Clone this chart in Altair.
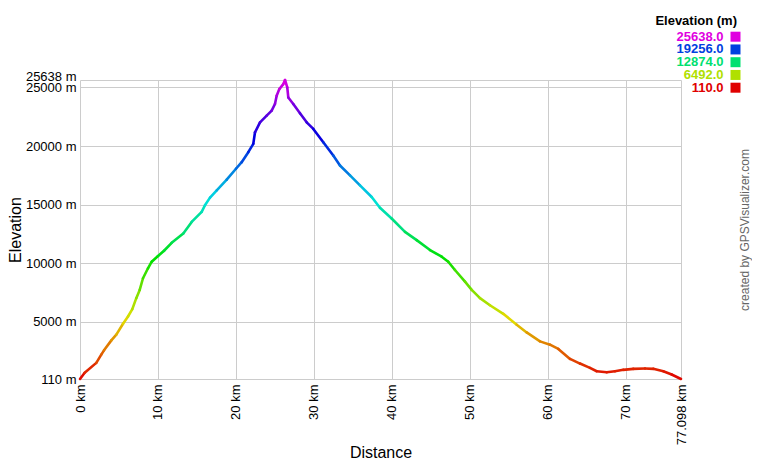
import altair as alt
import pandas as pd

# Distance (km) and elevation (m) along the track
dist = [0, 0.60, 2.09, 2.73, 3.08, 4.02, 4.66, 5.52, 6.16, 6.71, 7.22, 7.66, 8.08, 8.72, 9.20,
        10.01, 10.78, 11.76, 13.25, 14.33, 15.61, 16.03, 16.68, 17.54, 18.82, 20.01, 20.74, 21.59,
        22.23, 22.45, 23.09, 23.95, 24.59, 25.01, 25.23, 25.57, 26.08, 26.30, 26.59, 26.72, 27.36,
        28.22, 29.08, 29.93, 31.21, 32.49, 33.35, 34.64, 35.92, 37.42, 38.48, 39.98, 41.69, 43.19,
        44.90, 46.40, 47.24, 48.10, 49.39, 50.25, 51.31, 52.59, 54.30, 56.02, 57.30, 59.01, 60.29,
        61.36, 62.86, 64.14, 65.42, 66.28, 67.57, 68.63, 69.69, 70.98, 72.48, 73.54, 74.83, 75.90,
        77.098]
elev = [110, 637, 1487, 2193, 2558, 3408, 3893, 4828, 5448, 6077, 7012, 7718, 8712, 9562, 10123,
        10608, 11058, 11738, 12537, 13523, 14373, 14943, 15597, 16218, 17127, 18062, 18623, 19473,
        20187, 21173, 22023, 22593, 23018, 23587, 24293, 24862, 25287, 25638, 24998, 24148, 23587,
        22805, 22023, 21462, 20323, 19193, 18342, 17492, 16643, 15648, 14730, 13812, 12673, 11968,
        11118, 10548, 10123, 9418, 8423, 7718, 7012, 6409, 5678, 4743, 4088, 3323, 3043, 2677,
        1827, 1428, 1062, 773, 688, 773, 892, 977, 1002, 977, 773, 492, 110]

x_ticks = [0, 10, 20, 30, 40, 50, 60, 70, 77.098]
y_ticks = [110, 5000, 10000, 15000, 20000, 25000, 25638]
legend_values = [25638.0, 19256.0, 12874.0, 6492.0, 110.0]
legend_title = ["Elevation (m)"]
credit = ["created by GPSVisualizer.com"]

FONT = "Liberation Sans"

df = pd.DataFrame({"d": dist, "e": elev})
seg = pd.DataFrame({
    "d": df["d"][:-1].values,
    "e": df["e"][:-1].values,
    "d2": df["d"][1:].values,
    "e2": df["e"][1:].values,
})
seg["em"] = (seg["e"] + seg["e2"]) / 2

color_scale = alt.Scale(
    domain=[110, 6492, 12874, 19256, 25638],
    range=["#e00000", "#b0e000", "#00e070", "#0040e0", "#e000e0"],
    interpolate="hsl",
)

line = alt.Chart(seg).mark_rule(strokeWidth=2.6, strokeCap="round").encode(
    x=alt.X("d:Q", title="Distance",
            scale=alt.Scale(domain=[0, 77.098], nice=False, zero=False),
            axis=alt.Axis(values=x_ticks, labelAngle=270, labelPadding=5,
                          labelExpr="datum.value + ' km'", labelOverlap=False,
                          labelFlush=False, titleY=73, titleBaseline="middle")),
    x2="d2:Q",
    y=alt.Y("e:Q", title="Elevation",
            scale=alt.Scale(domain=[110, 25638], nice=False, zero=False),
            axis=alt.Axis(values=y_ticks, labelPadding=4,
                          labelExpr="datum.value + ' m'", labelOverlap=False,
                          labelBaseline={"condition": {"test": "datum.value == 25638",
                                                       "value": "alphabetic"},
                                         "value": "middle"},
                          labelFlush=False, titleX=-65, titleBaseline="middle")),
    y2="e2:Q",
    color=alt.Color("em:Q", scale=color_scale, legend=None),
)

leg_df = pd.DataFrame({"v": legend_values, "i": list(range(len(legend_values)))})
leg_y = alt.Y("i:Q", scale=alt.Scale(domain=[0, 4], range=[-43.3, 7.7]), axis=None)

leg_text = alt.Chart(leg_df).mark_text(
    align="right", baseline="middle", font=FONT, fontSize=13, fontWeight="bold"
).encode(
    x=alt.value(643.5),
    y=leg_y,
    text=alt.Text("v:Q", format=".1f"),
    color=alt.Color("v:Q", scale=color_scale, legend=None),
)

leg_sq = alt.Chart(leg_df).mark_square(size=100, opacity=1).encode(
    x=alt.value(655.5),
    y=leg_y,
    color=alt.Color("v:Q", scale=color_scale, legend=None),
)

title_txt = alt.Chart(pd.DataFrame({"t": legend_title})).mark_text(
    align="right", baseline="middle", font=FONT, fontSize=13, fontWeight="bold", color="#000"
).encode(x=alt.value(657), y=alt.value(-59), text="t:N")

credit_txt = alt.Chart(pd.DataFrame({"t": credit})).mark_text(
    align="center", baseline="middle", font=FONT, fontSize=12, color="#666", angle=270
).encode(x=alt.value(665), y=alt.value(150), text="t:N")

chart = alt.layer(line, leg_text, leg_sq, title_txt, credit_txt).resolve_scale(
    y="independent", x="independent"
).properties(
    width=601, height=299,
    autosize=alt.AutoSizeParams(type="none"),
    padding={"left": 72, "top": 72, "right": 71, "bottom": 80},
    background="white",
).configure_view(stroke="transparent").configure_axis(
    grid=True, gridColor="#cccccc", gridWidth=1, domain=False, ticks=False,
    labelFont=FONT, labelFontSize=13, labelColor="#000",
    titleFont=FONT, titleFontSize=16, titleFontWeight="normal", titleColor="#000",
)

chart.save("out.html", embed_options={"renderer": "svg", "actions": False})
